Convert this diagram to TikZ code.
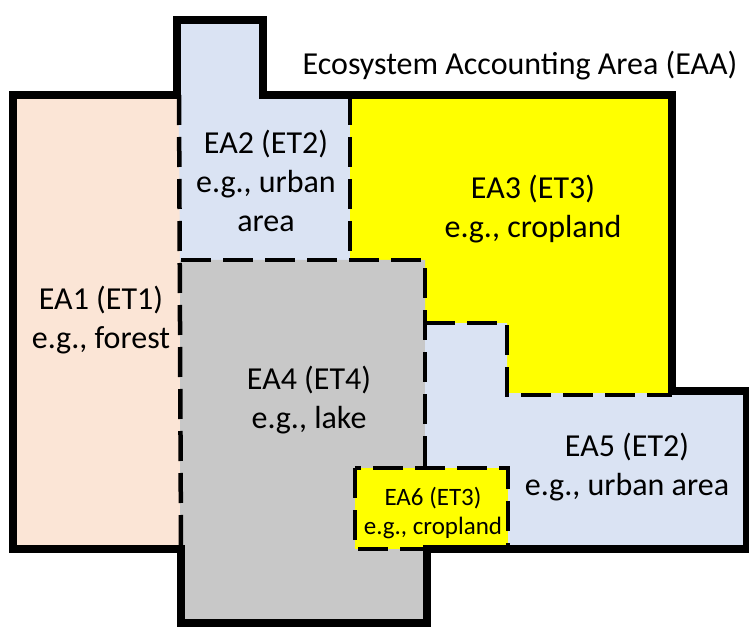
\documentclass[tikz,border=0pt]{standalone}
\usepackage{fontspec}
\setmainfont{Carlito}
\usepackage{xcolor}
\usepackage{tikz}

\definecolor{forestfill}{HTML}{FBE5D6}
\definecolor{urbanfill}{HTML}{DAE3F3}
\definecolor{lakefill}{HTML}{C8C8C8}
\definecolor{cropfill}{HTML}{FFFF00}

\begin{document}
\begin{tikzpicture}[
    x=1pt, y=-1pt,
    eaa border/.style={line width=8pt, line join=miter},
    asset border/.style={line width=4.5pt, dash pattern=on 30pt off 12pt},
    asset label/.style={align=center, inner sep=0pt, anchor=base, font=\fontsize{32}{39}\selectfont},
    small label/.style={asset label, font=\fontsize{25}{29}\selectfont}
]
    \useasboundingbox (0,0) rectangle (749,628);

    % --- FILLS (one per ecosystem asset) ---
    \fill[forestfill] (13,95) rectangle (180,549);
    \fill[urbanfill] (178,20) -- (263,20) -- (263,95) -- (350,95) -- (350,260) -- (180,260) -- cycle;
    \fill[cropfill] (350,95) -- (672,95) -- (672,393) -- (507,393) -- (507,323) -- (425,323) -- (425,260) -- (350,260) -- cycle;
    \fill[lakefill] (180,260) -- (425,260) -- (425,549) -- (427,549) -- (427,623) -- (180,623) -- cycle;
    \fill[urbanfill] (425,323) -- (507,323) -- (507,393) -- (747,393) -- (747,549) -- (425,549) -- cycle;
    \fill[cropfill] (355,468) rectangle (508,549);

    % --- BOUNDARIES BETWEEN ASSETS (dashed) ---
    \draw[asset border] (179,95) -- (181,549);
    \draw[asset border] (181,260) -- (425,260) -- (425,468);
    \draw[asset border] (350,95) -- (350,260);
    \draw[asset border] (425,323) -- (507,323) -- (507,395) -- (672,395);
    \draw[asset border] (355,468) rectangle (508,549);

    % --- EAA BORDER (solid) ---
    \draw[eaa border] (13,95) -- (177,95) -- (177,20) -- (263,20) -- (263,95) -- (672,95)
        -- (672,391) -- (747,391) -- (747,549) -- (427,549) -- (427,623) -- (181,623)
        -- (181,549) -- (13,549) -- cycle;

    % --- LABELS (anchored at the baseline of the last line) ---
    \node[asset label] (eaa) at (520,75) {Ecosystem Accounting Area (EAA)};
    \node[asset label] (ea1) at (101,348) {EA1 (ET1)\\e.g., forest};
    \node[asset label] (ea2) at (266,232) {EA2 (ET2)\\e.g., urban\\area};
    \node[asset label] (ea3) at (533,238) {EA3 (ET3)\\e.g., cropland};
    \node[asset label] (ea4) at (309,428) {EA4 (ET4)\\e.g., lake};
    \node[asset label] (ea5) at (627,495) {EA5 (ET2)\\e.g., urban area};
    \node[small label] (ea6) at (433,534) {EA6 (ET3)\\e.g., cropland};

\end{tikzpicture}
\end{document}
